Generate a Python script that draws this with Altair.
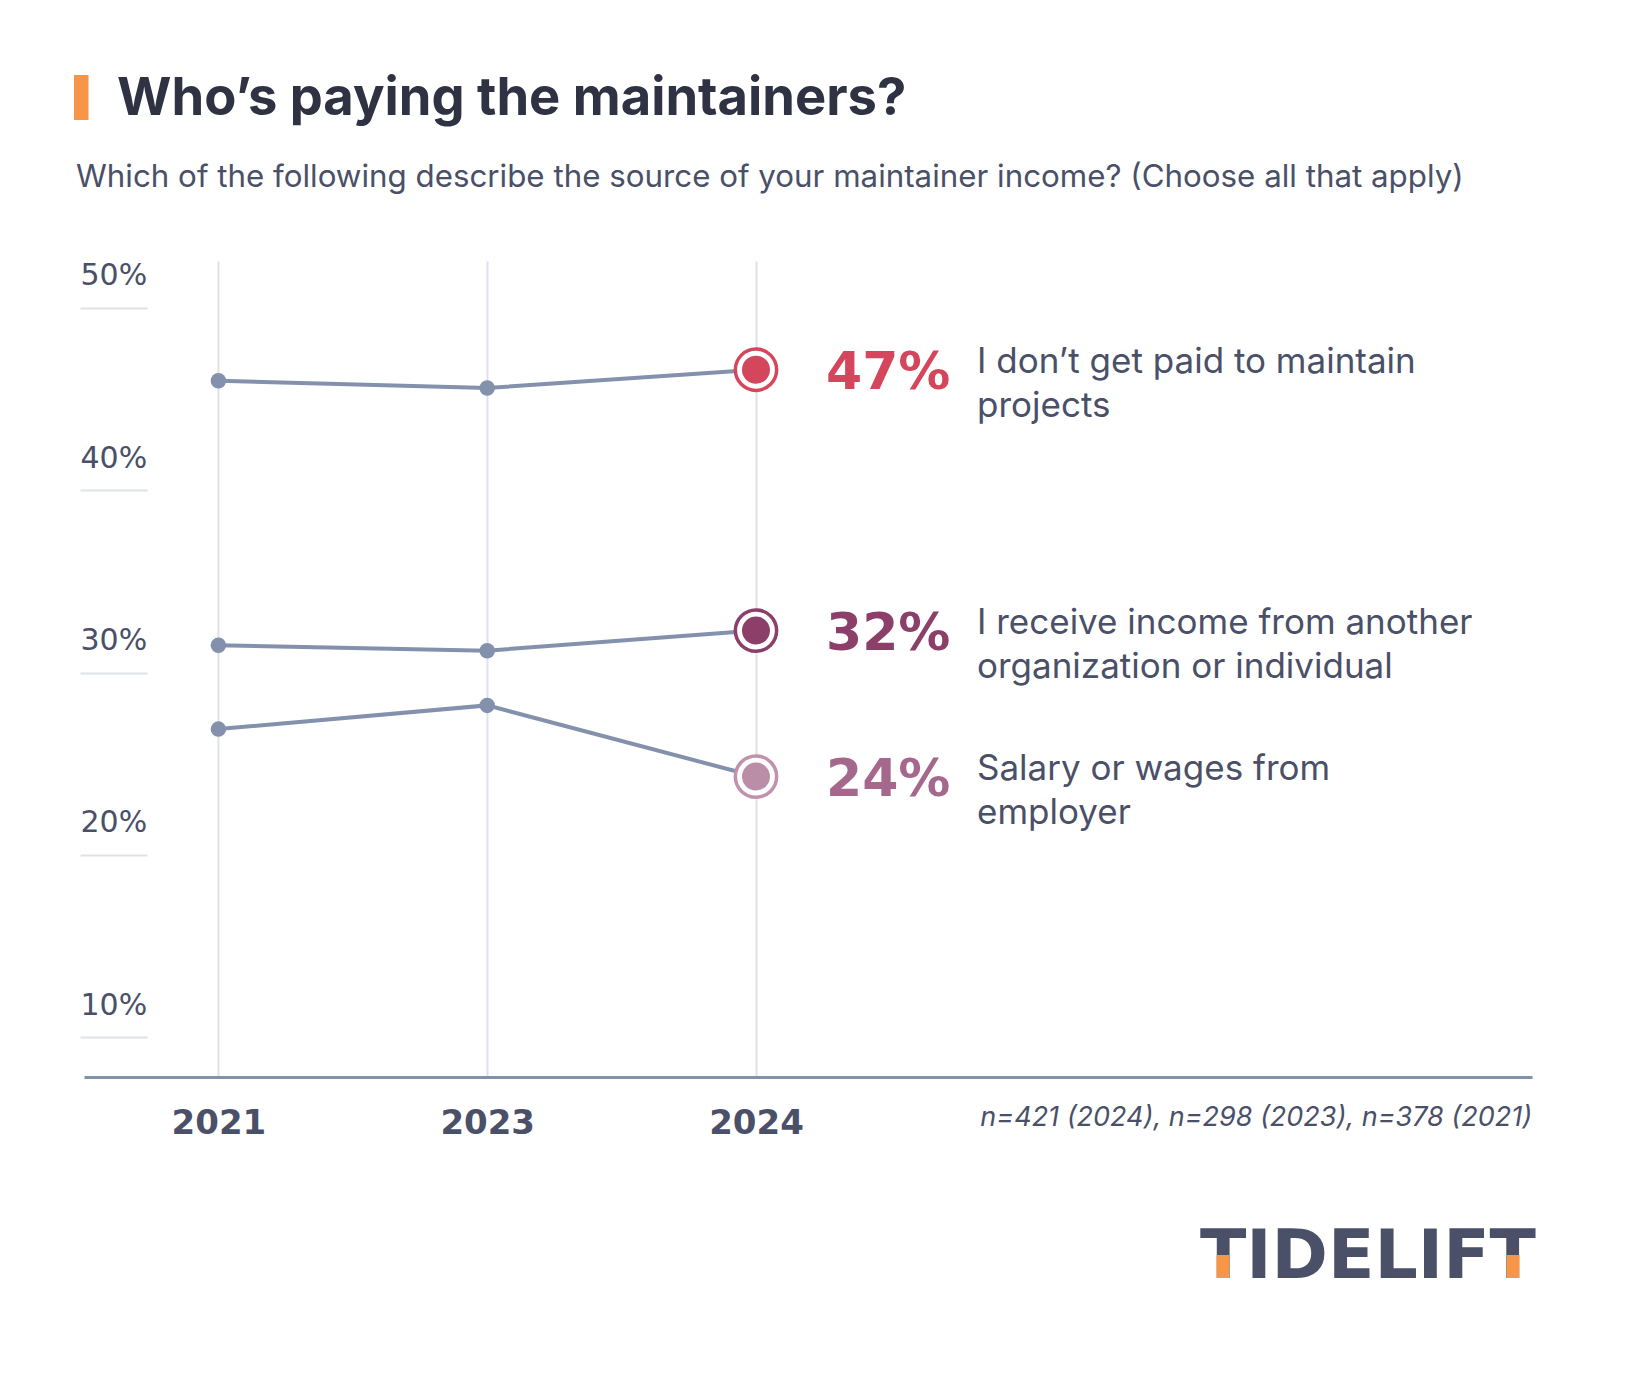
import altair as alt
import pandas as pd

# ---------------- data ----------------
years = ["2021", "2023", "2024"]
series = [
    "I don’t get paid to maintain\nprojects",
    "I receive income from another\norganization or individual",
    "Salary or wages from\nemployer",
]
dont_get_paid = [46.0, 45.6, 46.6]
other_org = [31.5, 31.2, 32.3]
salary = [26.9, 28.2, 24.3]
y_ticks = [10, 20, 30, 40, 50]

title_text = "Who’s paying the maintainers?"
subtitle_text = "Which of the following describe the source of your maintainer income? (Choose all that apply)"
footnote_text = "n=421 (2024), n=298 (2023), n=378 (2021)"
brand_text = "TIDELIFT"

# ---------------- styles ----------------
ring_colors = ["#d4465b", "#8c3f69", "#c291ad"]
fill_colors = ["#d4465b", "#8c3f69", "#bb8ea8"]
pct_colors = ["#d4465b", "#8c3f69", "#a5678b"]
line_color = "#8391ad"
text_color = "#4a5068"
grid_color = "#dde1ea"
orange = "#f79548"

rows = []
for s, vals in zip(series, [dont_get_paid, other_org, salary]):
    for i, (yr, v) in enumerate(zip(years, vals)):
        rows.append({"series": s, "year": yr, "idx": i, "value": v})
df = pd.DataFrame(rows)

W, H = 1448, 816

year_expr = "[" + ",".join("'%s'" % y for y in years) + "][datum.value]"

X = alt.X(
    "idx:Q",
    scale=alt.Scale(domain=[-0.5, 4.887], nice=False, zero=False),
    axis=alt.Axis(
        values=[0, 1, 2], labelExpr=year_expr, title=None,
        grid=True, gridColor=grid_color, gridWidth=2,
        ticks=False, tickSize=0,
        domain=True, domainColor=line_color, domainWidth=3,
        labelFont="DejaVu Sans", labelFontWeight="bold", labelFontSize=34,
        labelColor=text_color, labelPadding=29, labelFlush=False,
        labelBaseline="top",
    ),
)
Y = alt.Y(
    "value:Q",
    scale=alt.Scale(domain=[7.83, 52.56], nice=False, zero=False),
    axis=alt.Axis(
        values=y_ticks, labelExpr="datum.value + '%'", title=None,
        grid=False, domain=False, offset=-63,
        ticks=True, tickSize=67, tickColor="#dfe2ea", tickWidth=2,
        labelAlign="left", labelPadding=0, labelOffset=-23,
        labelBaseline="alphabetic",
        labelFont="DejaVu Sans", labelFontSize=30, labelColor=text_color,
    ),
)

base = alt.Chart(df).encode(x=X, y=Y)

lines = base.mark_line(color=line_color, strokeWidth=4).encode(detail="series:N")
dots = base.transform_filter("datum.idx < 2").mark_circle(
    size=240, color=line_color, opacity=1
)
outer = base.transform_filter("datum.idx == 2").mark_circle(
    size=1706, fill="white", strokeWidth=3.5, opacity=1
).encode(
    stroke=alt.Stroke("series:N", scale=alt.Scale(domain=series, range=ring_colors), legend=None)
)
inner = base.transform_filter("datum.idx == 2").mark_circle(size=784, opacity=1).encode(
    color=alt.Color("series:N", scale=alt.Scale(domain=series, range=fill_colors), legend=None)
)
pct = base.transform_filter("datum.idx == 2").transform_calculate(
    pct="format(datum.value, '.0f') + '%'"
).mark_text(
    align="left", baseline="alphabetic", dx=70, dy=19,
    font="DejaVu Sans", fontWeight="bold", fontSize=52,
).encode(
    text="pct:N",
    color=alt.Color("series:N", scale=alt.Scale(domain=series, range=pct_colors), legend=None),
)
labels = base.transform_filter("datum.idx == 2").mark_text(
    align="left", baseline="alphabetic", dx=221, dy=3,
    font="Inter", fontSize=35, color=text_color, lineBreak="\n", lineHeight=44,
).encode(text="series:N")

one = alt.Data(values=[{"a": 1}])
bar = alt.Chart(one).mark_rect(color=orange).encode(
    x=alt.value(-10), x2=alt.value(4.5), y=alt.value(-186), y2=alt.value(-141)
)
title = alt.Chart(one).mark_text(
    text=title_text, align="left", baseline="alphabetic",
    font="Inter", fontWeight="bold", fontSize=52.5, color="#2e3242",
).encode(x=alt.value(33), y=alt.value(-146))
subtitle = alt.Chart(one).mark_text(
    text=subtitle_text, align="left", baseline="alphabetic",
    font="Inter", fontSize=31.3, color=text_color,
).encode(x=alt.value(-8), y=alt.value(-74))
footnote = alt.Chart(one).mark_text(
    text=footnote_text, align="right", baseline="alphabetic",
    font="Inter", fontStyle="italic", fontSize=27, color=text_color,
).encode(x=alt.value(W), y=alt.value(865))
brand = alt.Chart(one).mark_text(
    text=brand_text, align="right", baseline="alphabetic",
    font="DejaVu Sans", fontWeight="bold", fontSize=68, color=text_color,
).encode(x=alt.value(1452), y=alt.value(1017))
brand_t1 = alt.Chart(one).mark_rect(color=orange).encode(
    x=alt.value(1132.5), x2=alt.value(1145.5), y=alt.value(994), y2=alt.value(1017)
)
brand_t2 = alt.Chart(one).mark_rect(color=orange).encode(
    x=alt.value(1422.5), x2=alt.value(1435.5), y=alt.value(994), y2=alt.value(1017)
)

chart = alt.layer(
    lines, dots, outer, inner, pct, labels, bar, title, subtitle, footnote,
    brand, brand_t1, brand_t2
).resolve_scale(color="independent", stroke="independent").properties(
    width=W, height=H,
    autosize=alt.AutoSizeParams(type="none"),
    padding={"left": 76, "top": 253, "right": 60, "bottom": 290},
    background="white",
).configure_view(stroke=None)

chart.save("out.html", embed_options={"renderer": "svg", "actions": False})
